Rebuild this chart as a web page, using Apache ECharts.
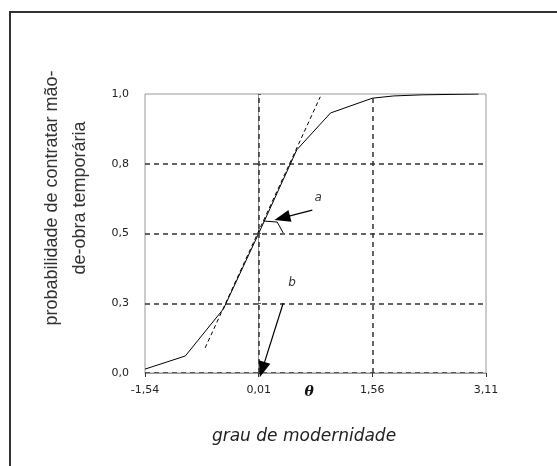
<!DOCTYPE html>
<html>
<head>
<meta charset="utf-8">
<script src="https://cdn.jsdelivr.net/npm/echarts@6/dist/echarts.min.js"></script>
<style>
html,body{margin:0;padding:0;background:#fff;}
#chart{width:557px;height:466px;}
</style>
</head>
<body>
<div id="chart"></div>
<script>
// ---- data ----
const thetaValues = [-1.54, -0.99, -0.47, 0.01, 0.53, 0.99, 1.56, 1.85, 2.24, 3.01];
const probValues  = [0.014, 0.061, 0.23, 0.50, 0.80, 0.932, 0.985, 0.993, 0.997, 1.0];

const tangentTheta = [-0.72, 0.85];
const tangentProb  = [0.09, 0.99];

const xTickValues  = [-1.54, 0.01, 1.56, 3.11];
const xLabelValues = [-1.54, 0.01, 0.70, 1.56, 3.11];
const xLabelTexts  = ['-1,54', '0,01', 'θ', '1,56', '3,11'];
const xGridValues  = [0.01, 1.56];

const yTickValues  = [0, 0.25, 0.5, 0.75, 1.0];
const yTickLabels  = ['0,0', '0,3', '0,5', '0,8', '1,0'];

// annotation: angle mark, arrows and letters (data units)
const angleTheta = [0.071, 0.263, 0.345];
const angleProb  = [0.545, 0.541, 0.502];
const arrowA = [[0.741, 0.584], [0.331, 0.556]];
const arrowB = [[0.345, 0.251], [0.058, 0.012]];
const letterNames = ['a', 'b'];
const letterTheta = [0.82, 0.467];
const letterProb  = [0.627, 0.323];

const yTitle = 'probabilidade de contratar mão-\nde-obra temporária';
const xTitle = 'grau de modernidade';

// ---- chart ----
const chart = echarts.init(document.getElementById('chart'), null, {renderer: 'canvas'});
const lblFont = {fontFamily: 'DejaVu Sans', fontSize: 11, color: '#222'};

function findLabel(v, vals, texts) {
  for (let i = 0; i < vals.length; i++) if (Math.abs(vals[i] - v) < 1e-6) return texts[i];
  return '';
}

const option = {
  backgroundColor: '#fff',
  animation: false,
  grid: {left: 145, right: 71, top: 94, bottom: 93, show: true, borderColor: '#999', borderWidth: 1},
  graphic: [
    {type: 'rect', shape: {x: 10, y: 12, width: 570, height: 480}, style: {fill: null, stroke: '#333', lineWidth: 2}, silent: true},
    {type: 'text', x: 66, y: 198, rotation: Math.PI / 2,
     style: {text: yTitle, font: '18px "Liberation Sans", Arial, sans-serif', fill: '#333', align: 'center', verticalAlign: 'middle', lineHeight: 28}},
    {type: 'text', x: 304, y: 437,
     style: {text: xTitle, font: 'italic 17px "DejaVu Sans", sans-serif', fill: '#222', align: 'center', verticalAlign: 'middle'}}
  ],
  xAxis: {
    type: 'value', min: -1.54, max: 3.11,
    axisLine: {show: true, lineStyle: {color: '#999', width: 1}},
    axisTick: {show: true, customValues: xTickValues, length: 4, inside: false, lineStyle: {color: '#333'}},
    axisLabel: {
      customValues: xLabelValues, margin: 12,
      formatter: v => {
        const t = findLabel(v, xLabelValues, xLabelTexts);
        return t === 'θ' ? '{th|θ}' : t;
      },
      ...lblFont,
      rich: {th: {fontFamily: 'DejaVu Serif', fontStyle: 'italic', fontWeight: 'bold', fontSize: 14, color: '#111'}}
    },
    splitLine: {show: false}
  },
  yAxis: {
    type: 'value', min: 0, max: 1, interval: 0.25,
    axisLine: {show: true, lineStyle: {color: '#999', width: 1}},
    axisTick: {show: true, inside: true, length: 3, lineStyle: {color: '#555'}},
    axisLabel: {margin: 16, formatter: v => findLabel(v, yTickValues, yTickLabels), ...lblFont},
    splitLine: {show: true, showMaxLine: false, lineStyle: {color: '#333', type: [5, 4], width: 1.5}}
  },
  series: [
    {
      type: 'line', name: 'curva', symbol: 'none', silent: true,
      data: thetaValues.map((t, i) => [t, probValues[i]]),
      lineStyle: {color: '#000', width: 1},
      markLine: {
        silent: true, symbol: ['none', 'none'], label: {show: false},
        lineStyle: {color: '#333', type: [5, 4], width: 1.5},
        data: xGridValues.map(v => ({xAxis: v}))
      }
    },
    {
      type: 'line', name: 'tangente', symbol: 'none', silent: true,
      data: tangentTheta.map((t, i) => [t, tangentProb[i]]),
      lineStyle: {color: '#000', width: 1, type: [4, 3]}
    },
    {
      type: 'line', name: 'angulo', symbol: 'none', silent: true,
      data: angleTheta.map((t, i) => [t, angleProb[i]]),
      lineStyle: {color: '#000', width: 1},
      markLine: {
        silent: true, symbol: ['none', 'triangle'], symbolSize: [12, 16], label: {show: false},
        lineStyle: {color: '#000', width: 1.2, type: 'solid'},
        data: [
          [{coord: arrowA[0]}, {coord: arrowA[1]}],
          [{coord: arrowB[0]}, {coord: arrowB[1]}]
        ]
      }
    },
    {
      type: 'scatter', name: 'letras', symbolSize: 0, silent: true,
      data: letterNames.map((n, i) => ({name: n, value: [letterTheta[i], letterProb[i]]})),
      label: {show: true, position: 'inside', formatter: p => p.name, fontFamily: 'DejaVu Sans', fontStyle: 'italic', fontSize: 12, color: '#000'}
    }
  ]
};
chart.setOption(option);
</script>
</body>
</html>
